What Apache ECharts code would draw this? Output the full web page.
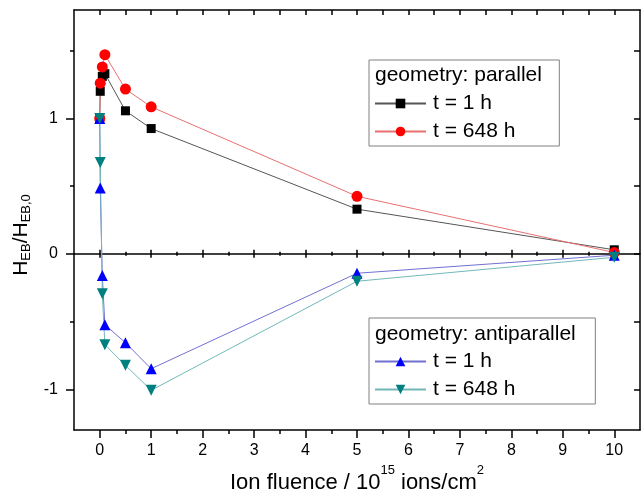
<!DOCTYPE html>
<html lang="en">
<head>
  <meta charset="UTF-8">
  <title>Exchange bias vs ion fluence</title>
  <script src="https://cdn.jsdelivr.net/npm/echarts@6/dist/echarts.min.js"></script>
  <style>
    html, body { margin: 0; padding: 0; background: #fff; }
    #main { width: 642px; height: 500px; }
  </style>
</head>
<body>
  <div id="main"></div>

  <script>
    // data
    const fluence = [0, 0.01, 0.05, 0.1, 0.5, 1, 5, 10];
    const par1h = [1.0, 1.2, 1.31, 1.33, 1.056, 0.925, 0.33, 0.03];
    const par648h = [1.0, 1.26, 1.38, 1.47, 1.216, 1.085, 0.425, 0.01];
    const anti1h = [1.0, 0.486, -0.16, -0.523, -0.656, -0.848, -0.143, -0.01];
    const anti648h = [1.0, 0.675, -0.295, -0.67, -0.823, -1.007, -0.202, -0.025];

    const xMajor = [0, 1, 2, 3, 4, 5, 6, 7, 8, 9, 10];
    const xMinor = [0.5, 1.5, 2.5, 3.5, 4.5, 5.5, 6.5, 7.5, 8.5, 9.5];
    const yMajor = [-1, 0, 1];
    const yMinor = [-0.5, 0.5, 1.5];

    const legendNames = { p1: 't = 1 h', p648: 't = 648 h', a1: 't = 1 h', a648: 't = 648 h' };

    const FONT = "'Liberation Sans', Arial, sans-serif";
    const X_MIN = -0.5, X_MAX = 10.5, Y_MIN = -1.3, Y_MAX = 1.8;

    const chart = echarts.init(document.getElementById('main'));

    function zip(xs, ys) {
      return xs.map((x, i) => [x, ys[i]]);
    }

    // an x axis that only draws ticks (plus line if asked)
    function xTicks(pos, values, len, inside, onZero, showLine) {
      return {
        type: 'value', min: X_MIN, max: X_MAX, position: pos,
        axisLine: { show: !!showLine, onZero: onZero, onZeroAxisIndex: 0, lineStyle: { color: '#000', width: 1.5 } },
        axisTick: { show: true, inside: inside, length: len, customValues: values, lineStyle: { color: '#000', width: 1.5 } },
        axisLabel: { show: false },
        splitLine: { show: false }
      };
    }
    function yTicks(pos, values, len, inside, showLine) {
      return {
        type: 'value', min: Y_MIN, max: Y_MAX, position: pos,
        axisLine: { show: !!showLine, onZero: false, lineStyle: { color: '#000', width: 1.5 } },
        axisTick: { show: true, inside: inside, length: len, customValues: values, lineStyle: { color: '#000', width: 1.5 } },
        axisLabel: { show: false },
        splitLine: { show: false }
      };
    }

    const xBottom = xTicks('bottom', xMajor, 8, false, false, true);
    xBottom.axisLabel = { show: true, customValues: xMajor, margin: 13, color: '#000', fontSize: 16, fontFamily: FONT };
    xBottom.name = '{m|Ion fluence / 10}{u|15}{m| ions/cm}{u|2}';
    xBottom.nameLocation = 'middle';
    xBottom.nameGap = 32;
    xBottom.nameTextStyle = {
      color: '#000', fontFamily: FONT,
      rich: {
        m: { fontSize: 22, lineHeight: 30, verticalAlign: 'bottom', fontFamily: FONT, color: '#000' },
        u: { fontSize: 13, lineHeight: 13, verticalAlign: 'top', fontFamily: FONT, color: '#000' }
      }
    };

    const yLeft = yTicks('left', yMajor, 8, false, true);
    yLeft.axisLabel = { show: true, customValues: yMajor, margin: 16, color: '#000', fontSize: 16, fontFamily: FONT };
    yLeft.name = '{m|H}{s|EB}{m|/H}{s|EB,0}';
    yLeft.nameLocation = 'middle';
    yLeft.nameRotate = 90;
    yLeft.nameGap = 38;
    yLeft.nameTextStyle = {
      color: '#000', fontFamily: FONT, padding: [0, 30, 0, 0],
      rich: {
        m: { fontSize: 21, lineHeight: 22, verticalAlign: 'top', fontFamily: FONT, color: '#000' },
        s: { fontSize: 13, lineHeight: 13, verticalAlign: 'bottom', padding: [20, 0, 0, 0], fontFamily: FONT, color: '#000' }
      }
    };

    function lineSeries(name, data, symbol, size, color, lineColor, rotate) {
      return {
        name: name, type: 'line', xAxisIndex: 0, yAxisIndex: 0,
        data: data, symbol: symbol, symbolSize: size, symbolRotate: rotate || 0,
        showSymbol: true,
        itemStyle: { color: color },
        lineStyle: { color: lineColor, width: 1 },
        emphasis: { disabled: true },
        animation: false
      };
    }

    const legendBase = {
      orient: 'vertical', itemGap: 7, itemWidth: 51, itemHeight: 12,
      borderColor: '#808080', borderWidth: 1, selectedMode: false,
      textStyle: { color: '#000', fontSize: 21, fontFamily: FONT, padding: [0, 0, 0, 2] },
      formatter: name => legendNames[name]
    };

    const option = {
      animation: false,
      grid: { left: 74, right: 2, top: 10, bottom: 70, containLabel: false, outerBoundsMode: 'none' },
      title: [
        { text: 'geometry: parallel', left: 375, top: 65, padding: 0,
          textStyle: { color: '#000', fontSize: 21, fontWeight: 'normal', fontFamily: FONT } },
        { text: 'geometry: antiparallel', left: 375, top: 324, padding: 0,
          textStyle: { color: '#000', fontSize: 21, fontWeight: 'normal', fontFamily: FONT } }
      ],
      legend: [
        Object.assign({}, legendBase, { data: ['p1', 'p648'], left: 369, top: 60, padding: [33, 44, 4, 5] }),
        Object.assign({}, legendBase, { data: ['a1', 'a648'], left: 369, top: 318, padding: [33, 80, 4, 5] })
      ],
      xAxis: [
        xBottom,
        xTicks('bottom', xMinor, 4, false, false, false),
        xTicks('top', xMajor.concat(xMinor), 5, true, false, true),
        xTicks('bottom', xMajor, 4, true, true, true),
        xTicks('bottom', xMajor, 4, false, true, false),
        xTicks('bottom', xMinor, 2, true, true, false),
        xTicks('bottom', xMinor, 2, false, true, false)
      ],
      yAxis: [
        yLeft,
        yTicks('left', yMinor, 4, false, false),
        yTicks('right', yMajor.concat(yMinor), 6, true, true)
      ],
      series: [
        lineSeries('p1', zip(fluence, par1h), 'rect', 9, '#000000', '#555555'),
        lineSeries('p648', zip(fluence, par648h), 'circle', 11, '#ff0000', '#e87070'),
        lineSeries('a1', zip(fluence, anti1h), 'triangle', 11, '#0000ff', '#7070d0'),
        lineSeries('a648', zip(fluence, anti648h), 'triangle', 11, '#007f7f', '#70b8b8', 180)
      ]
    };

    chart.setOption(option);
    window.addEventListener('resize', chart.resize);
  </script>
</body>
</html>
